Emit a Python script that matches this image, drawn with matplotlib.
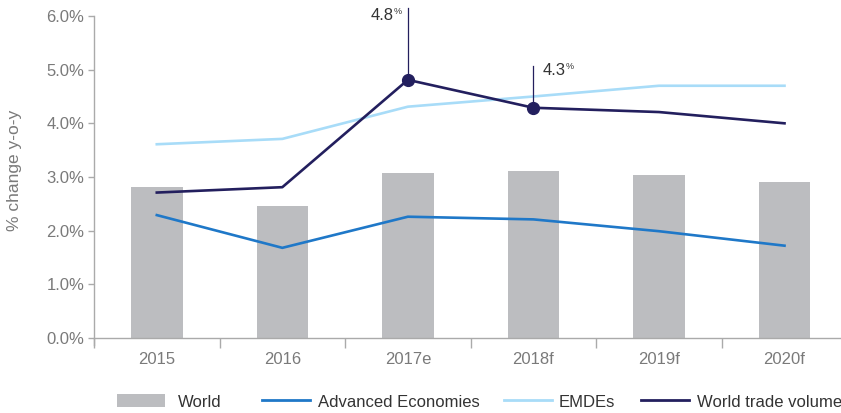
"""Global growth vs world trade volume chart."""

import matplotlib
matplotlib.use("Agg")
import matplotlib.pyplot as plt
import numpy as np
from matplotlib.lines import Line2D
from matplotlib.patches import Patch

years = ["2015", "2016", "2017e", "2018f", "2019f", "2020f"]
world = [2.82, 2.46, 3.08, 3.12, 3.04, 2.91]
advanced = [2.29, 1.68, 2.26, 2.21, 1.99, 1.72]
emdes = [3.61, 3.71, 4.31, 4.50, 4.70, 4.70]
trade = [2.71, 2.81, 4.81, 4.29, 4.21, 4.00]
callouts = {2: ("4.8", 6.14), 3: ("4.3", 5.06)}

GREY_BAR = "#bcbdc0"
BLUE = "#1f78c8"
LIGHT = "#a8dcf8"
NAVY = "#231f5e"
AXIS = "#aaaaaa"
TICK_TXT = "#7a7a7a"

plt.rcParams["font.family"] = ["Liberation Sans", "DejaVu Sans"]

fig = plt.figure(figsize=(8.41, 4.13), dpi=100)
ax = fig.add_axes([0.1118, 0.1816, 0.8882, 0.7797])

x = np.arange(len(years))
ax.bar(x, world, width=0.41, color=GREY_BAR, zorder=1)
ax.plot(x, advanced, color=BLUE, lw=1.9, zorder=2)
ax.plot(x, emdes, color=LIGHT, lw=1.9, zorder=2)
ax.plot(x, trade, color=NAVY, lw=1.9, zorder=3)

for i, (label, top) in callouts.items():
    ax.plot(x[i], trade[i], "o", color=NAVY, ms=8.5, zorder=4)
    ax.plot([x[i], x[i]], [trade[i], top], color=NAVY, lw=0.9, zorder=3,
            clip_on=False)

# 4.8 label sits left of its leader line, 4.3 to the right
ax.annotate("4.8", (2, 6.0), xytext=(-10.5, 0), textcoords="offset points",
            ha="right", va="center", fontsize=12, color="#333333")
ax.annotate("%", (2, 6.0), xytext=(-10.5, 3), textcoords="offset points",
            ha="left", va="center", fontsize=6.5, color="#333333")
ax.annotate("4.3", (3, 4.98), xytext=(6.5, 0), textcoords="offset points",
            ha="left", va="center", fontsize=12, color="#333333")
ax.annotate("%", (3, 4.98), xytext=(23.5, 3), textcoords="offset points",
            ha="left", va="center", fontsize=6.5, color="#333333")

ax.set_xlim(-0.5, 5.45)
ax.set_ylim(0, 6)
ax.set_yticks(np.arange(0, 6.01, 1.0))
ax.set_yticklabels([f"{v:.1f}%" for v in np.arange(0, 6.01, 1.0)])
ax.set_xticks(x)
ax.set_xticklabels(years)
ax.set_xticks(np.arange(-0.5, 5.0, 1.0), minor=True)
ax.tick_params(axis="x", which="major", length=0, pad=10,
               labelsize=12, labelcolor=TICK_TXT)
ax.tick_params(axis="x", which="minor", length=7, width=1, color=AXIS)
ax.tick_params(axis="y", length=4, width=1, color=AXIS, pad=3,
               labelsize=12, labelcolor=TICK_TXT)
ax.set_ylabel("% change y-o-y", fontsize=12.5, color=TICK_TXT)
ax.yaxis.set_label_coords(-0.096, 0.52)

for side in ["top", "right"]:
    ax.spines[side].set_visible(False)
for side in ["left", "bottom"]:
    ax.spines[side].set_color(AXIS)
    ax.spines[side].set_linewidth(1)
ax.spines["left"].set_bounds(-0.13, 6)

# one legend per entry so the uneven spacing of the original can be kept
entries = [
    (Patch(facecolor=GREY_BAR, label="World"), 0.1391, 0.75),
    (Line2D([], [], color=BLUE, lw=2, label="Advanced Economies"), 0.3115, 0.45),
    (Line2D([], [], color=LIGHT, lw=2, label="EMDEs"), 0.5993, 0.4),
    (Line2D([], [], color=NAVY, lw=2, label="World trade volume"), 0.7622, 0.45),
]
for handle, xpos, pad in entries:
    fig.legend(handles=[handle], loc="center left", bbox_to_anchor=(xpos, 0.027),
               frameon=False, fontsize=12, handlelength=2.9,
               handleheight=0.85, handletextpad=pad, borderpad=0,
               borderaxespad=0, labelcolor="#333333")

fig.savefig("out.png", dpi=100)
